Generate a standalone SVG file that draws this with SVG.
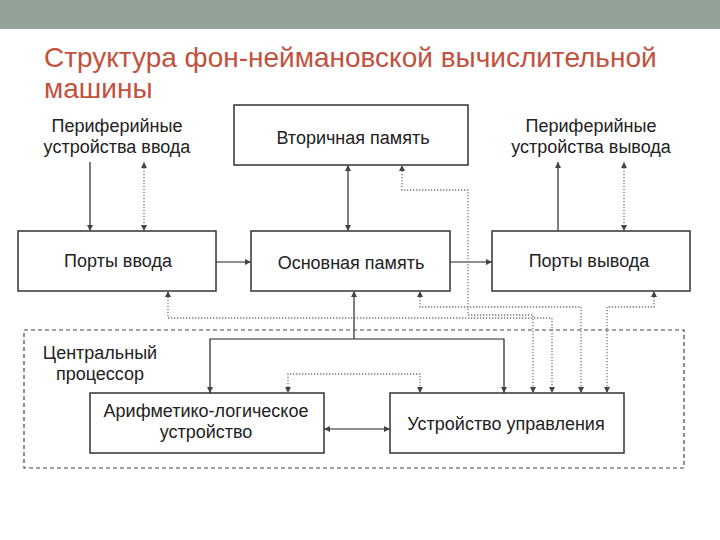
<svg xmlns="http://www.w3.org/2000/svg" width="720" height="540" viewBox="0 0 720 540">
<style>
.box{fill:#fff;stroke:#333;stroke-width:1.5}
.t{font-family:"Liberation Sans",Arial,sans-serif;font-size:18px;fill:#222;text-anchor:middle}
.title{font-family:"Liberation Sans",Arial,sans-serif;font-size:28px;fill:#C4513D}
.solid{fill:none;stroke:#555;stroke-width:1.5}
.thin{fill:none;stroke:#222;stroke-width:1.2}
.dot{fill:none;stroke:#777;stroke-width:1.3;stroke-dasharray:1.3 1.7}
.cpu{fill:none;stroke:#444;stroke-width:1.2;stroke-dasharray:4 3}
</style>
<defs>
<marker id="ae" viewBox="0 0 10 10" refX="10" refY="5" markerWidth="6" markerHeight="6" markerUnits="userSpaceOnUse" orient="auto-start-reverse">
<path d="M0,0 L10,5 L0,10 z" fill="#444"/>
</marker>
</defs>
<rect x="0" y="0" width="720" height="29" fill="#93A198"/>
<text class="title" x="44" y="67">Структура фон-неймановской вычислительной</text>
<text class="title" x="44" y="98">машины</text>

<g id="periph-in"><text class="t" x="117" y="132">Периферийные</text><text class="t" x="117" y="153">устройства ввода</text></g>
<g id="periph-out"><text class="t" x="591" y="132">Периферийные</text><text class="t" x="591" y="153">устройства вывода</text></g>

<g id="cpu"><rect class="cpu" x="24" y="330" width="660" height="138"/>
<text class="t" x="100" y="359">Центральный</text><text class="t" x="100" y="380">процессор</text></g>

<g id="secondary"><rect class="box" x="234" y="105" width="234" height="60"/><text class="t" x="353" y="144">Вторичная память</text></g>
<g id="in-ports"><rect class="box" x="18" y="231" width="198" height="60"/><text class="t" x="118" y="267">Порты ввода</text></g>
<g id="main-mem"><rect class="box" x="251" y="231" width="199" height="60"/><text class="t" x="351" y="269">Основная память</text></g>
<g id="out-ports"><rect class="box" x="492" y="231" width="198" height="60"/><text class="t" x="589" y="267">Порты вывода</text></g>
<g id="alu"><rect class="box" x="90" y="393" width="234" height="60"/><text class="t" x="206" y="417">Арифметико-логическое</text><text class="t" x="206" y="438">устройство</text></g>
<g id="cu"><rect class="box" x="390" y="393" width="234" height="60"/><text class="t" x="506" y="430">Устройство управления</text></g>

<g id="connectors">
<path class="solid" d="M90,162 V231" marker-end="url(#ae)"/>
<path class="dot" d="M144,162 V231" marker-start="url(#ae)" marker-end="url(#ae)"/>
<path class="solid" d="M558,231 V162" marker-end="url(#ae)"/>
<path class="dot" d="M624,162 V231" marker-start="url(#ae)" marker-end="url(#ae)"/>
<path class="thin" d="M216,262 H251" marker-end="url(#ae)"/>
<path class="thin" d="M450,262 H492" marker-end="url(#ae)"/>
<path class="solid" d="M348,165 V231" marker-start="url(#ae)" marker-end="url(#ae)"/>
<path class="dot" d="M402,165 V190 H468 V315 H533 V393" marker-start="url(#ae)" marker-end="url(#ae)"/>
<path class="dot" d="M168,291 V318 H552 V393" marker-start="url(#ae)" marker-end="url(#ae)"/>
<path class="dot" d="M420,291 V307 H581 V393" marker-start="url(#ae)" marker-end="url(#ae)"/>
<path class="dot" d="M654,291 V307 H607 V393" marker-start="url(#ae)" marker-end="url(#ae)"/>
<path class="solid" d="M354,339 V291" marker-end="url(#ae)"/>
<path class="thin" d="M210,393 V339 H504 V393" marker-start="url(#ae)" marker-end="url(#ae)"/>
<path class="dot" d="M288,393 V374 H420 V393" marker-start="url(#ae)" marker-end="url(#ae)"/>
<path class="thin" d="M324,429 H390" marker-start="url(#ae)" marker-end="url(#ae)"/>
</g>
</svg>
